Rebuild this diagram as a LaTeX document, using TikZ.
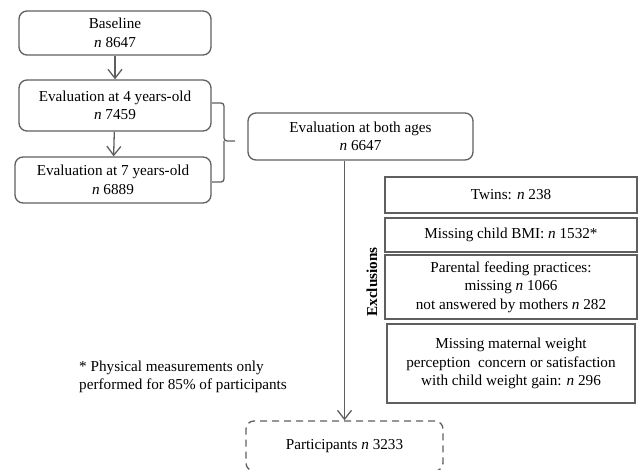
\documentclass[tikz,border=0pt]{standalone}
\usepackage{fontspec}
\setmainfont{Liberation Serif}
\usetikzlibrary{arrows.meta}
\definecolor{edgegray}{RGB}{95,95,95}
\begin{document}
\begin{tikzpicture}[
	x=1pt, y=-1pt,
	every node/.style = {font=\fontsize{15.2}{18.5}\selectfont, align=center, inner sep=0pt},
	stage/.style = {draw=edgegray, line width=1.3pt, rounded corners=8pt},
	excl/.style = {draw=edgegray, line width=1.3pt, minimum width=252pt},
	arr/.style = {draw=edgegray, line width=1.3pt, -{Straight Barb[length=9pt,width=14pt]}},
]
	\useasboundingbox (0,0) rectangle (638,470);

	\node [stage, minimum width=192pt, minimum height=44pt] (base) at (115,33) {Baseline\\\textit{n} 8647};
	\node [stage, minimum width=192pt, minimum height=51pt] (four) at (115,105.5) {Evaluation at 4 years-old\\\textit{n} 7459};
	\node [stage, minimum width=196pt, minimum height=46pt] (seven) at (113,180) {Evaluation at 7 years-old\\\textit{n} 6889};
	\node [stage, minimum width=225pt, minimum height=47pt] (both) at (360.5,136.5) {Evaluation at both ages\\\textit{n} 6647};
	\node [stage, dash pattern=on 7pt off 5pt, minimum width=197pt, minimum height=50pt] (part) at (344.5,446) {Participants \textit{n} 3233};

	\draw [arr] (base) -- (four);
	\draw [arr] (four) -- (seven);

	% brace joining both evaluations
	\coordinate (tip) at (235,141);
	\draw [edgegray, line width=1.3pt, rounded corners=3pt] (212,103) -| (224,141) -- (tip);
	\draw [edgegray, line width=1.3pt, rounded corners=3pt] (212,182) -| (224,141);

	\draw [arr] (part.north |- both.south) -- (part.north);

	% exclusions
	\node [excl, minimum height=36pt] (twins) at (511,195) {Twins: \textit{n} 238};
	\node [excl, minimum height=34pt] (bmi) at (511,235) {Missing child BMI: \textit{n} 1532*};
	\node [excl, minimum height=64pt] (feed) at (511,287) {Parental feeding practices:\\missing \textit{n} 1066\\not answered by mothers \textit{n} 282};
	\node [excl, minimum width=248pt, minimum height=79pt] (perc) at (511,363.5) {Missing maternal weight\\perception\ \ concern or satisfaction\\with child weight gain: \textit{n} 296};
	\node [rotate=90, font=\fontsize{15.2}{18}\selectfont\bfseries] (exlabel) at (372,282) {Exclusions};

	\node [anchor=west, align=left] (note) at (79,377) {* Physical measurements only\\performed for 85\% of participants};
\end{tikzpicture}
\end{document}
